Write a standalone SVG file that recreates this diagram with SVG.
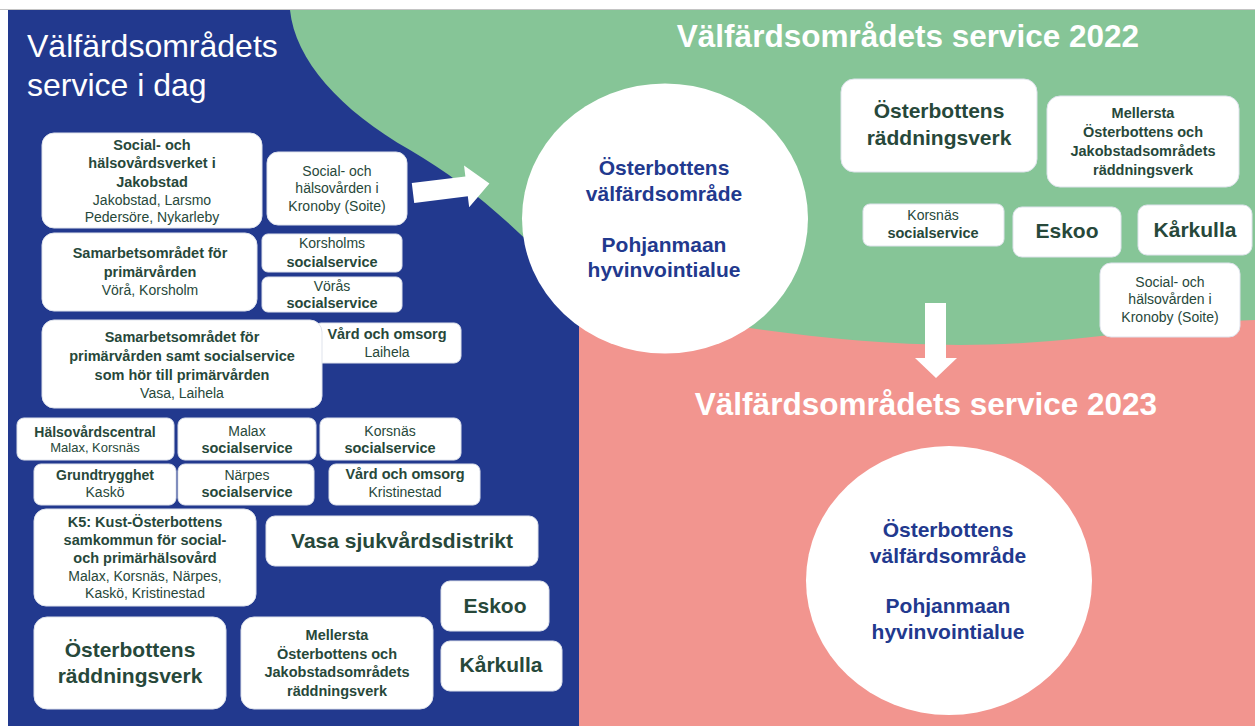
<svg xmlns="http://www.w3.org/2000/svg" width="1255" height="726" viewBox="0 0 1255 726">
<style>
text{font-family:"Liberation Sans",Arial,sans-serif;text-anchor:middle;fill:#27483a}
.b{font-weight:bold;font-size:14.5px}
.n{font-size:14px}
.s{font-size:13px}
.L{font-weight:bold;font-size:21px}
.box{fill:#ffffff;stroke:#dfe3ec;stroke-width:1}
.ell{fill:#ffffff}
.et{font-weight:bold;font-size:21px;fill:#22398e}
.title{fill:#ffffff;font-weight:bold;font-size:31.5px}
.arrow{fill:#ffffff}
</style>
<rect x="0" y="0" width="1255" height="726" fill="#ffffff"/>
<line x1="0" y1="9.5" x2="1255" y2="9.5" stroke="#c4c4c4" stroke-width="1"/>
<g id="background">
<rect x="8" y="10" width="572" height="716" fill="#22398e"/>
<path d="M290,10 C295,60 340,110 410,150 C470,185 520,230 580,295 L580,380 L1255,380 L1255,10 Z" fill="#86c597"/>
<path d="M579,305 C700,318 820,345 960,345 C1080,345 1180,322 1255,320 L1255,726 L579,726 Z" fill="#f2958f"/>
</g>
<g id="titles">
<text x="27" y="57" style="font-size:32px;fill:#ffffff;text-anchor:start">Välfärdsområdets</text>
<text x="27" y="96" style="font-size:32px;fill:#ffffff;text-anchor:start">service i dag</text>
<text class="title" x="908" y="47">Välfärdsområdets service 2022</text>
<text class="title" x="926" y="415">Välfärdsområdets service 2023</text>
</g>
<g id="connectors">
<polygon class="arrow" transform="translate(413,193) rotate(-7)" points="0,-10 54,-10 54,-21 77,0 54,21 54,10 0,10"/>
<polygon class="arrow" points="925,303 946,303 946,358 957,358 936,378 915,358 925,358"/>
</g>
<g id="n-jakobstad">
<rect class="box" x="42" y="133" width="220" height="95" rx="12"/>
<text class="b" x="152" y="150">Social- och</text>
<text class="b" x="152" y="168">hälsovårdsverket i</text>
<text class="b" x="152" y="187">Jakobstad</text>
<text class="n" x="152" y="205">Jakobstad, Larsmo</text>
<text class="n" x="152" y="222">Pedersöre, Nykarleby</text>
</g>
<g id="n-soite-left">
<rect class="box" x="267" y="152" width="140" height="73" rx="11"/>
<text class="n" x="337" y="176">Social- och</text>
<text class="n" x="337" y="193">hälsovården i</text>
<text class="n" x="337" y="211">Kronoby (Soite)</text>
</g>
<g id="n-vora-korsholm">
<rect class="box" x="42" y="233" width="215" height="78" rx="12"/>
<text class="b" x="150" y="258">Samarbetsområdet för</text>
<text class="b" x="150" y="277">primärvården</text>
<text class="n" x="150" y="295">Vörå, Korsholm</text>
</g>
<g id="n-korsholm">
<rect class="box" x="262" y="234" width="140" height="38" rx="6"/>
<text class="n" x="332" y="248">Korsholms</text>
<text class="b" x="332" y="267">socialservice</text>
</g>
<g id="n-voras">
<rect class="box" x="262" y="277" width="140" height="35" rx="6"/>
<text class="n" x="332" y="291">Vörås</text>
<text class="b" x="332" y="308">socialservice</text>
</g>
<g id="n-vard-laihela">
<rect class="box" x="314" y="323" width="147" height="40" rx="7"/>
<text class="b" x="387" y="339">Vård och omsorg</text>
<text class="n" x="387" y="357">Laihela</text>
</g>
<g id="n-vasa-laihela">
<rect class="box" x="42" y="320" width="280" height="88" rx="12"/>
<text class="b" x="182" y="342">Samarbetsområdet för</text>
<text class="b" x="182" y="361">primärvården samt socialservice</text>
<text class="b" x="182" y="380">som hör till primärvården</text>
<text class="n" x="182" y="398">Vasa, Laihela</text>
</g>
<g id="n-halsovardscentral">
<rect class="box" x="17" y="418" width="157" height="42" rx="7"/>
<text class="b" x="95" y="437" style="font-size:14px">Hälsovårdscentral</text>
<text class="s" x="95" y="452">Malax, Korsnäs</text>
</g>
<g id="n-malax">
<rect class="box" x="178" y="418" width="138" height="42" rx="7"/>
<text class="n" x="247" y="436">Malax</text>
<text class="b" x="247" y="453">socialservice</text>
</g>
<g id="n-korsnas-left">
<rect class="box" x="320" y="418" width="141" height="42" rx="7"/>
<text class="n" x="390" y="436">Korsnäs</text>
<text class="b" x="390" y="453">socialservice</text>
</g>
<g id="n-grundtrygghet">
<rect class="box" x="34" y="464" width="142" height="41" rx="7"/>
<text class="b" x="105" y="480" style="font-size:14px">Grundtrygghet</text>
<text class="n" x="105" y="497">Kaskö</text>
</g>
<g id="n-narpes">
<rect class="box" x="178" y="464" width="136" height="41" rx="7"/>
<text class="n" x="247" y="480">Närpes</text>
<text class="b" x="247" y="497">socialservice</text>
</g>
<g id="n-vard-kristinestad">
<rect class="box" x="329" y="464" width="151" height="41" rx="7"/>
<text class="b" x="405" y="479">Vård och omsorg</text>
<text class="n" x="405" y="497">Kristinestad</text>
</g>
<g id="n-k5">
<rect class="box" x="34" y="509" width="222" height="97" rx="12"/>
<text class="b" x="145" y="527">K5: Kust-Österbottens</text>
<text class="b" x="145" y="545">samkommun för social-</text>
<text class="b" x="145" y="563">och primärhälsovård</text>
<text class="n" x="145" y="581">Malax, Korsnäs, Närpes,</text>
<text class="n" x="145" y="598">Kaskö, Kristinestad</text>
</g>
<g id="n-vshp">
<rect class="box" x="266" y="516" width="272" height="50" rx="9"/>
<text class="L" x="402" y="548">Vasa sjukvårdsdistrikt</text>
</g>
<g id="n-eskoo-left">
<rect class="box" x="441" y="581" width="108" height="50" rx="9"/>
<text class="L" x="495" y="613">Eskoo</text>
</g>
<g id="n-karkulla-left">
<rect class="box" x="441" y="641" width="121" height="50" rx="9"/>
<text class="L" x="501" y="672">Kårkulla</text>
</g>
<g id="n-raddning-left">
<rect class="box" x="34" y="617" width="192" height="92" rx="13"/>
<text class="L" x="130" y="657">Österbottens</text>
<text class="L" x="130" y="683">räddningsverk</text>
</g>
<g id="n-mellersta-left">
<rect class="box" x="241" y="617" width="192" height="92" rx="13"/>
<text class="b" x="337" y="640">Mellersta</text>
<text class="b" x="337" y="659">Österbottens och</text>
<text class="b" x="337" y="677">Jakobstadsområdets</text>
<text class="b" x="337" y="696">räddningsverk</text>
</g>
<g id="n-valfardsomrade-2022">
<ellipse class="ell" cx="665" cy="218.5" rx="143" ry="135"/>
<text class="et" x="664" y="175">Österbottens</text>
<text class="et" x="664" y="201">välfärdsområde</text>
<text class="et" x="664" y="252">Pohjanmaan</text>
<text class="et" x="664" y="277">hyvinvointialue</text>
</g>
<g id="n-raddning-2022">
<rect class="box" x="841" y="79" width="196" height="93" rx="13"/>
<text class="L" x="939" y="118">Österbottens</text>
<text class="L" x="939" y="145">räddningsverk</text>
</g>
<g id="n-mellersta-2022">
<rect class="box" x="1047" y="96" width="192" height="91" rx="13"/>
<text class="b" x="1143" y="118">Mellersta</text>
<text class="b" x="1143" y="137">Österbottens och</text>
<text class="b" x="1143" y="156">Jakobstadsområdets</text>
<text class="b" x="1143" y="175">räddningsverk</text>
</g>
<g id="n-korsnas-2022">
<rect class="box" x="863" y="204" width="141" height="42" rx="7"/>
<text class="n" x="933" y="220">Korsnäs</text>
<text class="b" x="933" y="238">socialservice</text>
</g>
<g id="n-eskoo-2022">
<rect class="box" x="1013" y="207" width="108" height="50" rx="9"/>
<text class="L" x="1067" y="238">Eskoo</text>
</g>
<g id="n-karkulla-2022">
<rect class="box" x="1138" y="205" width="114" height="50" rx="9"/>
<text class="L" x="1195" y="237">Kårkulla</text>
</g>
<g id="n-soite-2022">
<rect class="box" x="1100" y="263" width="140" height="74" rx="11"/>
<text class="n" x="1170" y="287">Social- och</text>
<text class="n" x="1170" y="304">hälsovården i</text>
<text class="n" x="1170" y="322">Kronoby (Soite)</text>
</g>
<g id="n-valfardsomrade-2023">
<ellipse class="ell" cx="949" cy="580.5" rx="143" ry="134.5"/>
<text class="et" x="948" y="537">Österbottens</text>
<text class="et" x="948" y="563">välfärdsområde</text>
<text class="et" x="948" y="613">Pohjanmaan</text>
<text class="et" x="948" y="639">hyvinvointialue</text>
</g>
</svg>
